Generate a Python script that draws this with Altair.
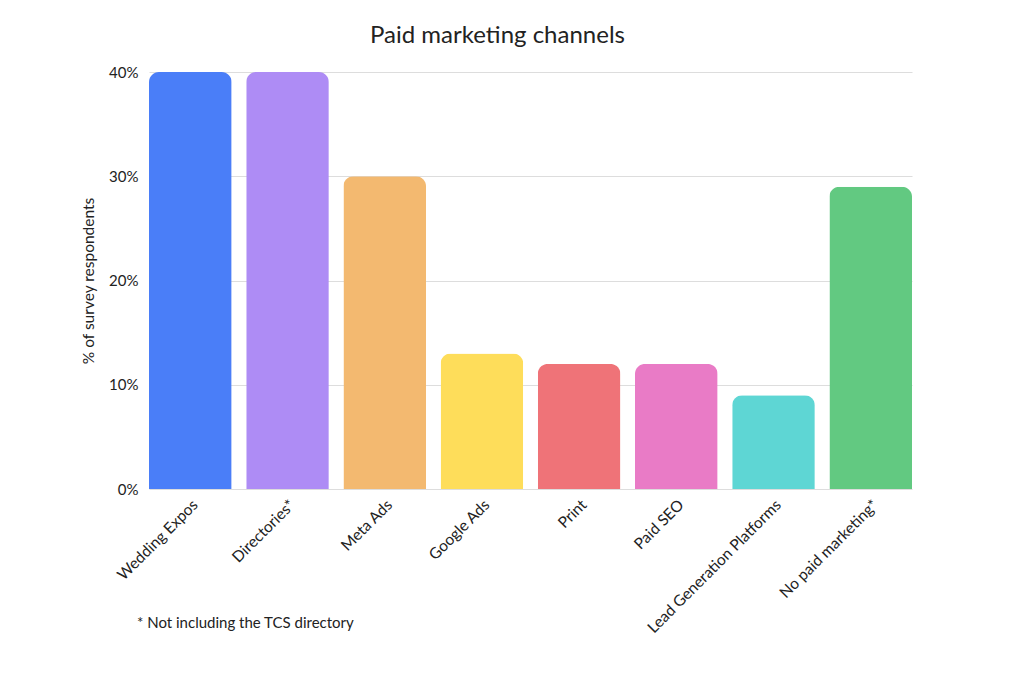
import altair as alt
import pandas as pd

channels = ["Wedding Expos", "Directories*", "Meta Ads", "Google Ads", "Print",
            "Paid SEO", "Lead Generation Platforms", "No paid marketing*"]
shares = [0.40, 0.40, 0.30, 0.13, 0.12, 0.12, 0.09, 0.29]
colors = ["#4a7ef8", "#ae8cf5", "#f3b970", "#fedd5a", "#ef7378", "#e97bc6", "#5ed6d4", "#62c981"]
footnote = ["* Not including the TCS directory"]

df = pd.DataFrame({"channel": channels, "share": shares})
FONT = "Lato"
W, H = 763, 417

bars = alt.Chart(df).mark_bar(cornerRadiusTopLeft=10, cornerRadiusTopRight=10).encode(
    x=alt.X("channel:N", sort=channels, title=None,
            scale=alt.Scale(paddingInner=0.15, paddingOuter=0),
            axis=alt.Axis(labelAngle=-45, labelAlign="right", labelBaseline="top",
                          labelFontSize=15.5, labelFont=FONT, labelColor="#222",
                          labelPadding=8, labelLimit=400,
                          ticks=False, domain=False, grid=False)),
    y=alt.Y("share:Q", title="% of survey respondents",
            scale=alt.Scale(domain=[0, 0.40], nice=False),
            axis=alt.Axis(format=".0%", values=[0, 0.1, 0.2, 0.3, 0.4],
                          labelFontSize=15, labelFont=FONT, labelColor="#222",
                          labelPadding=11, ticks=False, domain=False,
                          gridColor="#dddddd", gridWidth=1,
                          titleFont=FONT, titleFontSize=15.5, titleFontWeight="normal",
                          titleColor="#222", titlePadding=12)),
    color=alt.Color("channel:N", sort=channels,
                    scale=alt.Scale(domain=channels, range=colors), legend=None),
)

note = alt.Chart(pd.DataFrame({"t": footnote})).mark_text(
    align="left", baseline="middle", font=FONT, fontSize=15, color="#222"
).encode(text="t:N", x=alt.value(-12), y=alt.value(H + 134))

chart = alt.layer(bars, note).properties(
    width=W, height=H,
    title=alt.TitleParams("Paid marketing channels", font=FONT, fontSize=24,
                          fontWeight="normal", color="#222", anchor="middle",
                          dx=-33, offset=17),
    autosize=alt.AutoSizeParams(type="none"),
    padding={"left": 149, "top": 72, "right": 112, "bottom": 194},
).configure(background="white").configure_view(stroke=None)

chart.save("out.html", embed_options={"renderer": "svg", "actions": False})
